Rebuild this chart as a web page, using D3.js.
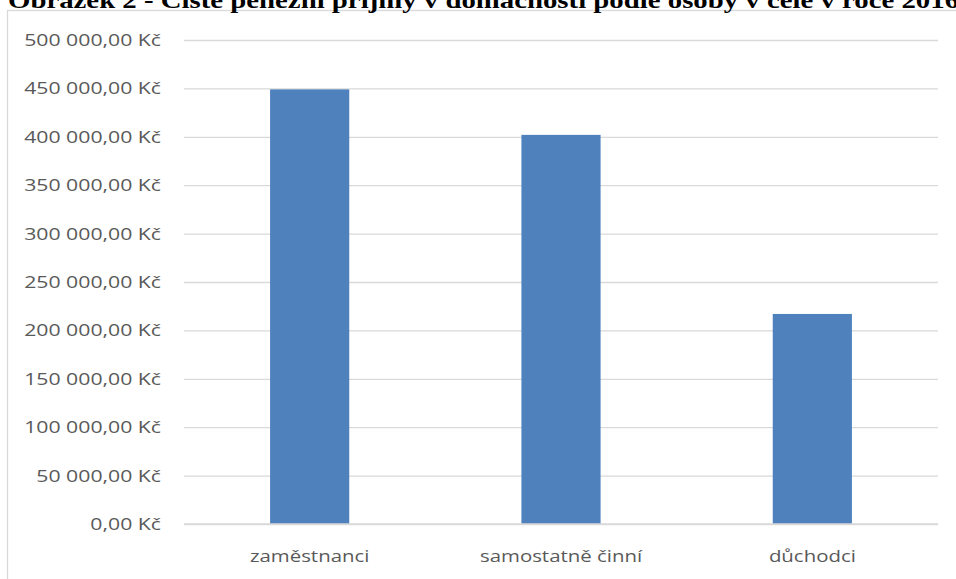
<!DOCTYPE html>
<html>
<head>
<meta charset="utf-8">
<script src="https://cdn.jsdelivr.net/npm/d3@7"></script>
<style>
  html, body { margin: 0; padding: 0; background: #fff; }
  svg { display: block; }
</style>
</head>
<body>
<svg id="chart" width="956" height="579"></svg>
<script>
// Čisté peněžní příjmy domácností podle osoby v čele (Kč)
const categories = ["zaměstnanci", "samostatně činní", "důchodci"];
const values = [449000, 402000, 217000];
const yTicks = [0, 50000, 100000, 150000, 200000, 250000, 300000, 350000, 400000, 450000, 500000];
const titleText = "Obrázek 2 - Čisté peněžní příjmy v domácnosti podle osoby v čele v roce 2016";

const svg = d3.select("#chart");
const W = 956, H = 579;
const m = { left: 184, right: 18, top: 40, bottom: 55 };
const labelFont = "'Open Sans', 'Noto Sans', sans-serif";
const ySx = 1.25, xSx = 1.2;

// chart area frame
svg.append("rect")
  .attr("x", 7.5).attr("y", 10.5)
  .attr("width", W + 10).attr("height", H + 10)
  .attr("fill", "#fff").attr("stroke", "#d9d9d9").attr("stroke-width", 1.3);

// title (runs over the top and right page edges)
svg.append("text")
  .attr("transform", "translate(8,7.5) scale(1.2,1)")
  .attr("font-family", "'Liberation Serif', 'DejaVu Serif', serif")
  .attr("font-weight", "bold")
  .attr("font-size", 24)
  .attr("fill", "#000")
  .text(titleText);

const x = d3.scaleBand()
  .domain(categories)
  .range([m.left, W - m.right])
  .paddingInner(0.685)
  .paddingOuter(0.3425);

const y = d3.scaleLinear()
  .domain([0, 500000])
  .range([H - m.bottom, m.top]);

const fmt = v => d3.format(",.2f")(v).replace(/,/g, " ").replace(".", ",") + " Kč";

// gridlines + y axis labels
const yAxis = d3.axisLeft(y)
  .tickValues(yTicks)
  .tickSize(-(W - m.right - m.left))
  .tickFormat(fmt);

const gy = svg.append("g")
  .attr("transform", `translate(${m.left},0)`)
  .call(yAxis);
gy.select(".domain").remove();
gy.selectAll(".tick line").attr("stroke", "#d9d9d9").attr("stroke-width", 1.3);
gy.selectAll(".tick text")
  .attr("x", -23 / ySx)
  .attr("transform", `scale(${ySx},1)`)
  .attr("fill", "#595959")
  .attr("font-family", labelFont)
  .attr("font-size", 17);

// bars
svg.append("g").selectAll("rect")
  .data(values)
  .join("rect")
  .attr("x", (d, i) => x(categories[i]))
  .attr("y", d => y(d))
  .attr("width", x.bandwidth())
  .attr("height", d => y(0) - y(d))
  .attr("fill", "#4f81bd");

// x axis labels
const xAxis = d3.axisBottom(x).tickSize(0);
const gx = svg.append("g")
  .attr("transform", `translate(0,${y(0)})`)
  .call(xAxis);
gx.select(".domain").remove();
gx.selectAll(".tick text")
  .attr("y", 38)
  .attr("dy", 0)
  .attr("transform", `scale(${xSx},1)`)
  .attr("fill", "#595959")
  .attr("font-family", labelFont)
  .attr("font-size", 17);

// baseline on top of bars
svg.append("line")
  .attr("x1", m.left).attr("x2", W - m.right)
  .attr("y1", y(0)).attr("y2", y(0))
  .attr("stroke", "#d9d9d9").attr("stroke-width", 1.3);
</script>
</body>
</html>
